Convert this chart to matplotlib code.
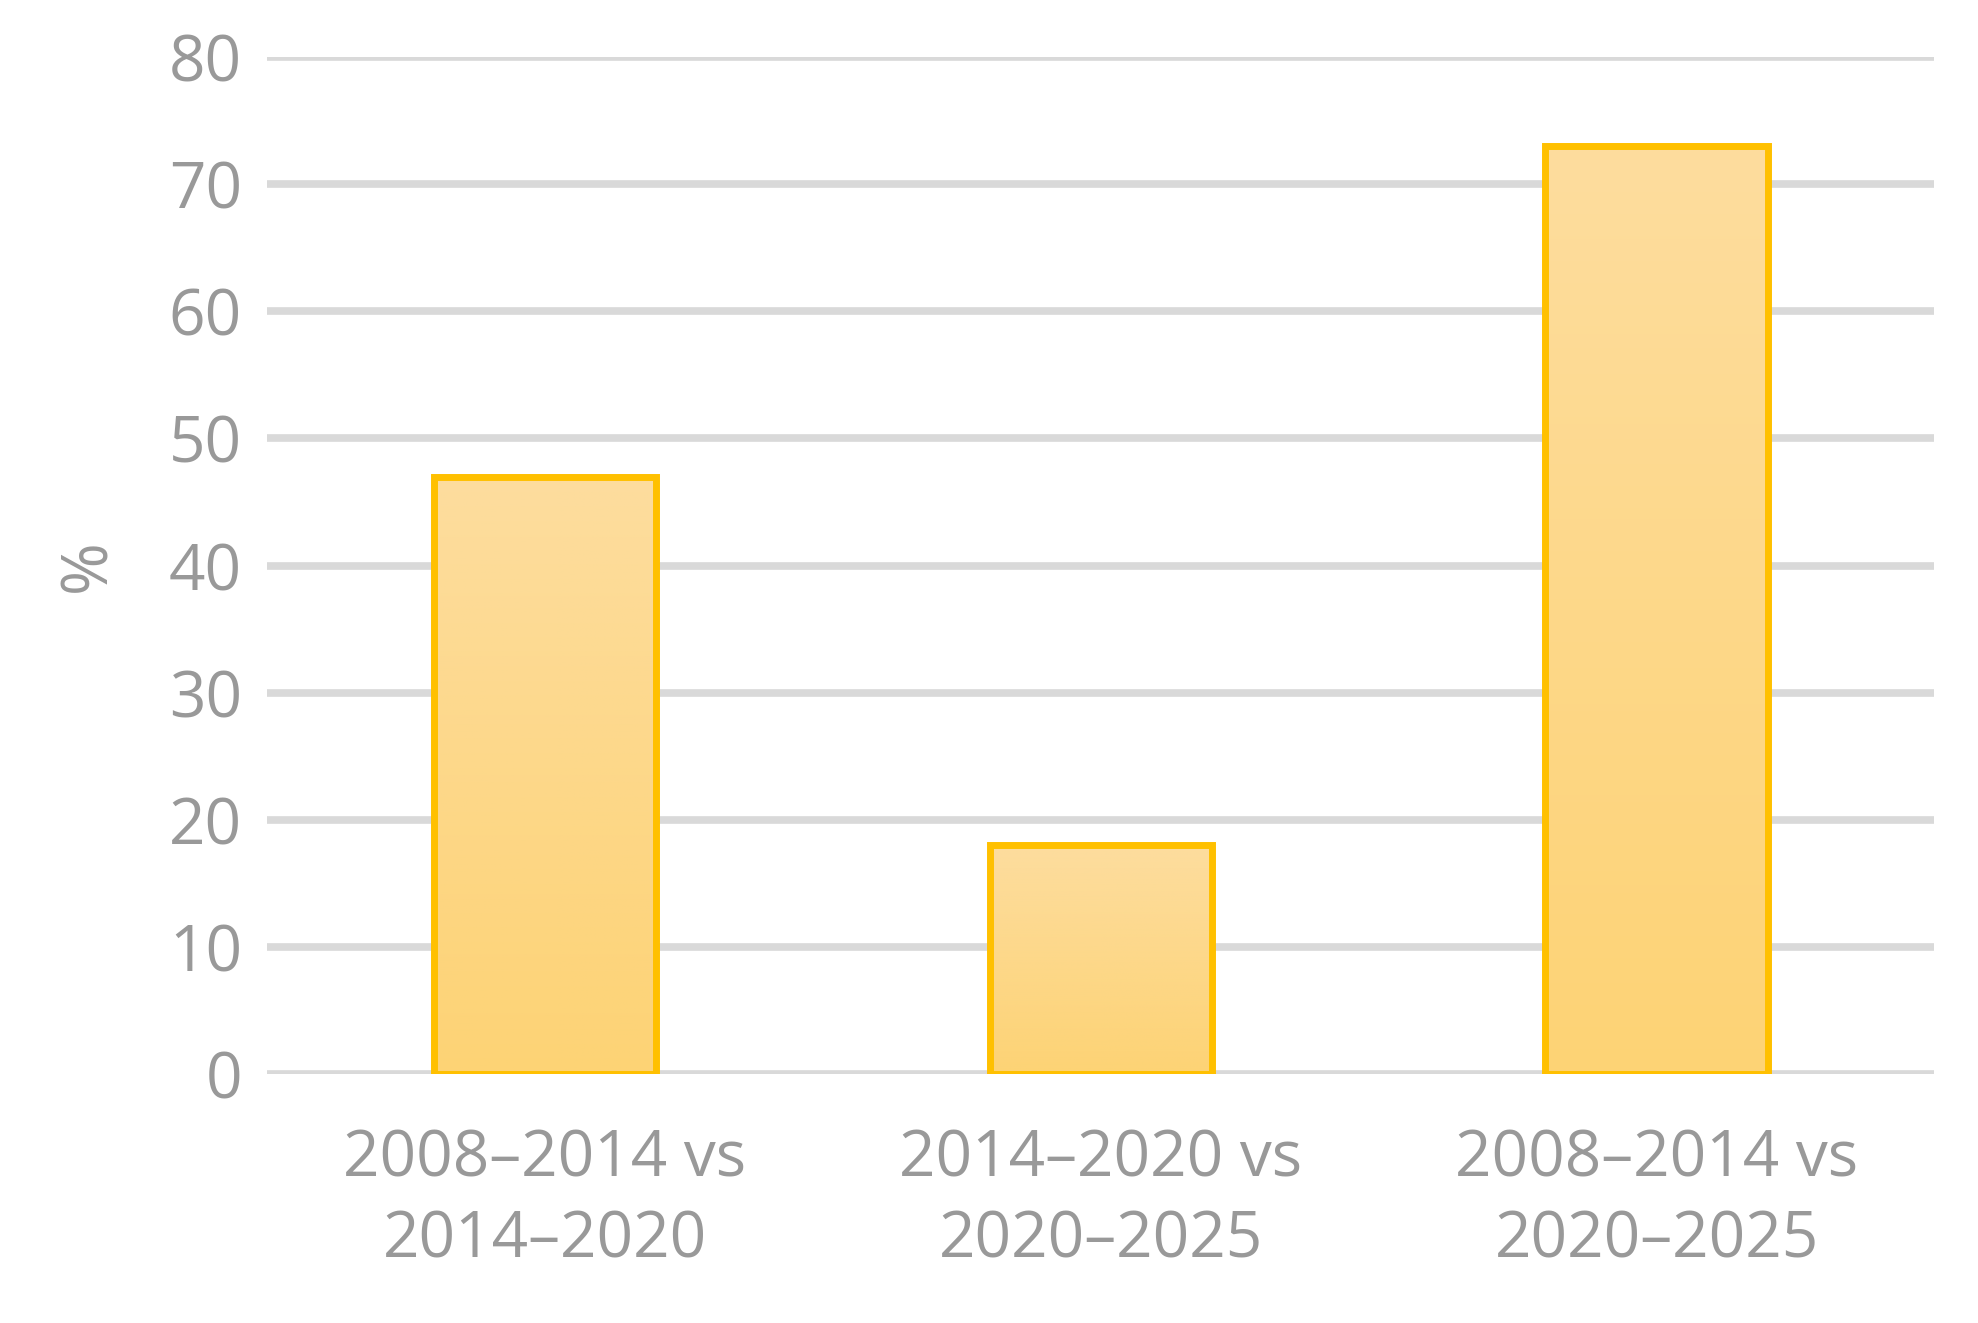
import matplotlib
matplotlib.use("Agg")
import matplotlib.pyplot as plt
import numpy as np
from matplotlib.colors import LinearSegmentedColormap

categories = ["2008–2014 vs\n2014–2020", "2014–2020 vs\n2020–2025", "2008–2014 vs\n2020–2025"]
values = [47, 18, 73]
yticks = [0, 10, 20, 30, 40, 50, 60, 70, 80]

plt.rcParams['font.family'] = ['Open Sans', 'DejaVu Sans']
fig = plt.figure(figsize=(19.78, 13.23), dpi=100)
ax = fig.add_axes([0.135, 0.188, 0.843, 0.769])
x = np.arange(len(categories))
bars = ax.bar(x, values, width=0.4, color='none', edgecolor='#FFC000', linewidth=5, zorder=3)
grad = np.linspace(0, 1, 256).reshape(-1, 1)
cmap = LinearSegmentedColormap.from_list('g', ['#FDD375', '#FDDD9E'])
for b in bars:
    x0, w, h = b.get_x(), b.get_width(), b.get_height()
    im = ax.imshow(grad, extent=[x0, x0 + w, 0, h], origin='lower', aspect='auto', cmap=cmap, zorder=2)
    im.set_clip_path(b)
ax.set_xlim(-0.5, 2.5)
ax.set_ylim(0, 80)
ax.set_yticks(yticks)
ax.set_xticks(x)
ax.set_xticklabels(categories, linespacing=1.35)
ax.grid(axis='y', color='#D9D9D9', linewidth=5.5, zorder=0)
ax.set_axisbelow(True)
for s in ax.spines.values():
    s.set_visible(False)
ax.tick_params(length=0, labelsize=46, colors='#999999', pad=18)
ax.tick_params(axis='x', pad=38)
ax.set_ylabel('%', fontsize=46, color='#999999', labelpad=35)
fig.savefig('out.png', dpi=100)
